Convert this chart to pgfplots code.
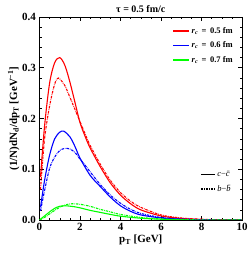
\documentclass[border=0pt]{standalone}
\usepackage{pgfplots}
\pgfplotsset{compat=1.18}
\usepackage{fontspec}
\setmainfont{Liberation Serif}
\begin{document}
\begin{tikzpicture}
\begin{axis}[
  scale only axis,
  width=202.5pt, height=203pt,
  xmin=0, xmax=10, ymin=0, ymax=0.4,
  xtick={0,2,4,6,8,10},
  ytick={0,0.1,0.2,0.3,0.4},
  minor x tick num=3,
  minor y tick num=4,
  tick align=inside,
  major tick length=4pt, minor tick length=2pt,
  axis line style={line width=0.9pt},
  every tick/.style={black, line width=0.5pt},
  /pgf/number format/assume math mode=true,
  yticklabel style={/pgf/number format/fixed,/pgf/number format/fixed zerofill,/pgf/number format/precision=1, font=\fontsize{11}{12}\selectfont\bfseries},
  xticklabel style={font=\fontsize{11}{12}\selectfont\bfseries},
  xlabel={p\textsubscript{T} [GeV]},
  ylabel={(1/N)dN\textsubscript{d}/dp\textsubscript{T} [GeV\textsuperscript{−1}]},
  label style={font=\fontsize{11}{12}\selectfont\bfseries},
  xlabel style={yshift=3pt},
  ylabel style={yshift=-4pt},
  title={τ = 0.5 fm/c},
  title style={font=\fontsize{10}{11}\selectfont\bfseries, yshift=-5pt},
  legend style={draw=none, fill=none, at={(0.98,0.97)}, anchor=north east, font=\fontsize{8.5}{9}\selectfont\bfseries, row sep=3pt},
  legend cell align=left,
  legend image code/.code={\draw[#1, line width=1.3pt, solid] (0pt,0pt) -- (16pt,0pt);},
  clip=true,
]
% red solid
\addplot[red, line width=1.1pt, smooth] coordinates {
(0.05,0.085) (0.25,0.185) (0.5,0.27) (0.75,0.31) (1.0,0.32) (1.25,0.305) (1.5,0.272) (1.75,0.232) (2.0,0.192) (2.25,0.165) (2.5,0.142) (3.0,0.105) (3.5,0.073) (4.0,0.049) (4.5,0.032) (5.0,0.020) (6.0,0.008) (7.0,0.003) (8.0,0.001) (9.0,0.0004) (10,0.0001)};
\addlegendentry{\textit{r}\textsubscript{\textit{c}}\, = \,0.5 fm}
% blue solid
\addplot[blue, line width=1.1pt, smooth] coordinates {
(0.05,0.025) (0.25,0.078) (0.5,0.128) (0.75,0.160) (1.0,0.173) (1.2,0.175) (1.5,0.164) (1.75,0.145) (2.0,0.122) (2.5,0.088) (3.0,0.066) (3.5,0.045) (4.0,0.028) (4.5,0.017) (5.0,0.010) (6.0,0.004) (7.0,0.0015) (8.0,0.0005) (9.0,0.0002) (10,0.0001)};
\addlegendentry{\textit{r}\textsubscript{\textit{c}}\, = \,0.6 fm}
% green solid
\addplot[green, line width=1.1pt, smooth] coordinates {
(0.0,0.0) (0.25,0.008) (0.5,0.016) (0.75,0.023) (1.0,0.027) (1.3,0.028) (1.75,0.026) (2.0,0.024) (2.5,0.019) (3.0,0.015) (3.5,0.011) (4.0,0.0075) (5.0,0.0035) (6.0,0.0015) (7.0,0.0006) (8.0,0.0002) (10,0.0)};
\addlegendentry{\textit{r}\textsubscript{\textit{c}}\, = \,0.7 fm}
% red dashed
\addplot[red, line width=1.1pt, smooth, dash pattern=on 2.5pt off 1pt on 0.6pt off 1pt, forget plot] coordinates {
(0.05,0.06) (0.25,0.16) (0.5,0.225) (0.75,0.268) (0.9,0.279) (1.0,0.278) (1.25,0.265) (1.5,0.242) (1.75,0.218) (2.0,0.194) (2.25,0.17) (2.5,0.147) (3.0,0.110) (3.5,0.078) (4.0,0.054) (4.5,0.037) (5.0,0.025) (6.0,0.010) (7.0,0.004) (8.0,0.0015) (9.0,0.0005) (10,0.0002)};
% blue dashed
\addplot[blue, line width=1.1pt, smooth, dash pattern=on 2.5pt off 1pt on 0.6pt off 1pt, forget plot] coordinates {
(0.05,0.018) (0.25,0.058) (0.5,0.102) (0.75,0.124) (1.0,0.137) (1.25,0.141) (1.5,0.140) (1.75,0.133) (2.0,0.120) (2.25,0.108) (2.5,0.095) (3.0,0.070) (3.5,0.049) (4.0,0.033) (4.5,0.021) (5.0,0.013) (6.0,0.005) (7.0,0.002) (8.0,0.0007) (9.0,0.0002) (10,0.0001)};
% green dashed
\addplot[green, line width=1.1pt, smooth, dash pattern=on 2.5pt off 1pt on 0.6pt off 1pt, forget plot] coordinates {
(0.0,0.0) (0.25,0.005) (0.5,0.012) (0.75,0.019) (1.0,0.025) (1.3,0.030) (1.6,0.032) (2.0,0.031) (2.5,0.027) (3.0,0.021) (3.5,0.016) (4.0,0.011) (5.0,0.005) (6.0,0.002) (7.0,0.0008) (8.0,0.0003) (10,0.0)};
\end{axis}
\begin{axis}[
  scale only axis,
  width=202.5pt, height=203pt,
  xmin=0, xmax=10, ymin=0, ymax=0.4,
  hide axis,
  legend style={draw=none, fill=none, at={(0.98,0.26)}, anchor=north east, font=\fontsize{8.5}{9}\selectfont, row sep=3pt},
  legend cell align=left,
  legend image code/.code={\draw[#1, line width=1.2pt] (0pt,0pt) -- (14pt,0pt);},
]
\addlegendimage{black}
\addlegendentry{\textit{c}−\textit{\=c}}
\addlegendimage{black, dash pattern=on 2.5pt off 1pt on 0.6pt off 1pt}
\addlegendentry{\textit{b}−\textit{\=b}}
\end{axis}
\pgfresetboundingbox
\path (current axis.south west) ++(-39.5pt,-34pt) coordinate (bl);
\path (current axis.north east) ++(8pt,17pt) coordinate (tr);
\path[use as bounding box] (bl) rectangle (tr);
\end{tikzpicture}
\end{document}
